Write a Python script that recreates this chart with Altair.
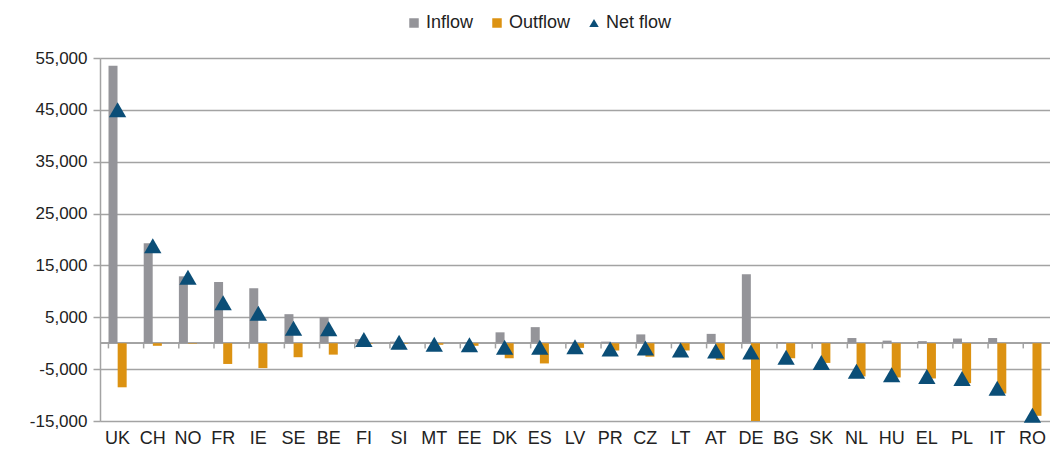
import altair as alt
import pandas as pd

countries = ["UK", "CH", "NO", "FR", "IE", "SE", "BE", "FI", "SI", "MT", "EE", "DK", "ES", "LV",
             "PR", "CZ", "LT", "AT", "DE", "BG", "SK", "NL", "HU", "EL", "PL", "IT", "RO"]
inflow = [53500, 19300, 12900, 11800, 10600, 5600, 5000, 800, 300, 100, 200, 2100, 3100, 100,
          300, 1700, 100, 1800, 13300, 200, 100, 1000, 500, 400, 900, 1000, 100]
outflow = [-8500, -500, -100, -4000, -4800, -2700, -2200, -100, -100, -300, -500, -2900, -3900, -900,
           -1400, -2600, -1400, -3200, -15000, -2900, -3800, -6400, -6600, -6800, -7700, -9700, -14000]
netflow = [45000, 18800, 12700, 7800, 5800, 2900, 2800, 700, 200, -200, -300, -800, -800, -700,
           -1100, -900, -1300, -1500, -1700, -2700, -3700, -5400, -6100, -6400, -6800, -8700, -13900]
y_ticks = [-15000, -5000, 5000, 15000, 25000, 35000, 45000, 55000]

GREY = "#949499"
ORANGE = "#dc9212"
BLUE = "#0b4e77"
FONT = "Liberation Sans"

rows = []
for c, i, o, n in zip(countries, inflow, outflow, netflow):
    rows.append({"country": c, "series": "Inflow", "value": i})
    rows.append({"country": c, "series": "Outflow", "value": o})
bars_df = pd.DataFrame(rows)
net_df = pd.DataFrame({"country": countries, "series": "Net flow", "value": netflow})
base_df = pd.DataFrame({"country": countries})

domain = ["Inflow", "Outflow", "Net flow"]
color_scale = alt.Scale(domain=domain, range=[GREY, ORANGE, BLUE])
shape_scale = alt.Scale(domain=domain, range=["square", "square", "triangle-up"])
x_scale = alt.Scale(paddingInner=0.48, paddingOuter=0.24)

x_axis = alt.Axis(title=None, labelAngle=0, ticks=False, domain=False,
                  labelFontSize=18, labelFont=FONT, labelColor="#222222",
                  labelPadding=8)
y_scale = alt.Scale(domain=[-15000, 55000], nice=False, zero=False)
y_axis = alt.Axis(title=None, values=y_ticks,
                  labelExpr="replace(format(datum.value, ',.0f'), '\u2212', '-')",
                  labelFontSize=17,
                  labelFont=FONT, labelColor="#222222", grid=True,
                  gridColor="#a3a3a3", gridWidth=1.5, domainColor="#a3a3a3",
                  domainWidth=1.5, tickColor="#a3a3a3", tickWidth=1.5,
                  tickSize=7, labelPadding=6)

legend = alt.Legend(title=None, orient="none", legendX=305, legendY=-44, direction="horizontal",
                    labelFontSize=18, labelFont=FONT, labelColor="#222222", symbolSize=90,
                    symbolStrokeWidth=0, columnPadding=14, labelOffset=3)

bars = alt.Chart(bars_df).mark_bar(size=9).encode(
    x=alt.X("country:N", sort=countries, scale=x_scale, axis=x_axis),
    xOffset=alt.XOffset("series:N", sort=["Inflow", "Outflow"], scale=alt.Scale(paddingInner=0, paddingOuter=0)),
    y=alt.Y("value:Q", scale=y_scale, axis=y_axis),
    color=alt.Color("series:N", scale=color_scale, legend=legend),
    shape=alt.Shape("series:N", scale=shape_scale, legend=legend),
)

zero = alt.Chart(base_df).mark_rule(color="#a3a3a3", strokeWidth=1.5).encode(
    y=alt.datum(0, scale=y_scale, axis=y_axis)
)

ticks = alt.Chart(base_df).mark_rule(color="#a3a3a3", strokeWidth=1.5).encode(
    x=alt.X("country:N", sort=countries, bandPosition=0, scale=x_scale, axis=x_axis),
    y=alt.datum(0),
    y2=alt.datum(-1000),
)

points = alt.Chart(net_df).mark_point(filled=True, size=300, opacity=1).encode(
    x=alt.X("country:N", sort=countries, scale=x_scale, axis=x_axis),
    y=alt.Y("value:Q", scale=y_scale, axis=y_axis),
    color=alt.Color("series:N", scale=color_scale, legend=legend),
    shape=alt.Shape("series:N", scale=shape_scale, legend=legend),
)

chart = alt.layer(zero, ticks, bars, points).resolve_scale(
    color="shared", shape="shared"
).properties(
    width=950, height=363,
    autosize=alt.AutoSizeParams(type="none"),
    padding={"left": 92, "top": 50, "right": 0, "bottom": 30},
).configure_view(stroke=None).configure(background="white")

chart.save("out.html", embed_options={"renderer": "svg", "actions": False})
